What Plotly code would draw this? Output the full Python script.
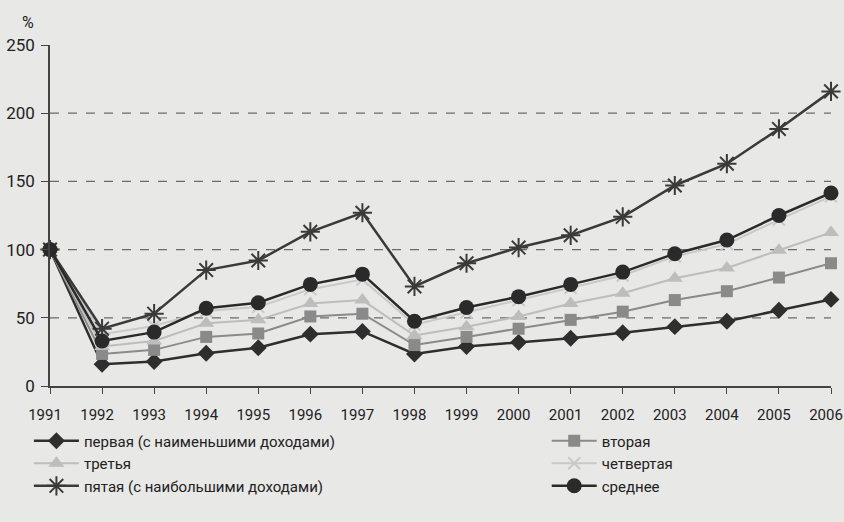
import plotly.graph_objects as go

years = list(range(1991, 2007))
first = [100, 16, 18, 24, 28, 38, 40, 23.5, 29, 32, 35, 39, 43.5, 47.5, 55.5, 63.5]
second = [100, 23.5, 26.5, 36, 38.5, 51, 53, 30, 36, 42, 48.5, 54.5, 63, 69.5, 79.5, 90]
third = [100, 29, 33, 46, 48.5, 60.5, 63, 37, 43.5, 51, 60.5, 68, 79, 86.5, 99.5, 112.5]
fourth = [100, 38, 44, 55, 58, 71, 78, 45, 54, 63, 72, 81, 95, 104, 122, 139]
fifth = [100, 42, 53, 85, 92, 113, 127, 73, 90, 101.5, 110.5, 124, 147, 163, 188.5, 216]
mean = [100, 33, 39.5, 57, 61, 74.5, 82, 47.5, 57.5, 65.5, 74.5, 83.5, 97, 107, 125, 141.5]

names = ["первая (с наименьшими доходами)", "вторая", "третья", "четвертая",
         "пятая (с наибольшими доходами)", "среднее"]
legend_ids = ["legend", "legend2", "legend", "legend2", "legend", "legend2"]
y_ticks = [0, 50, 100, 150, 200, 250]
grid_vals = [50, 100, 150, 200]

FONT = "Roboto, sans-serif"
BG = "#e8e8e6"
TXT = "#222222"

styles = [
    (first, "#2e2e2e", 2.5, dict(symbol="diamond", size=13)),
    (second, "#8a8a8a", 2, dict(symbol="square", size=12)),
    (third, "#bdbdbd", 2, dict(symbol="triangle-up", size=14)),
    (fourth, "#c9c9c9", 2, dict(symbol="x-thin-open", size=12, line=dict(width=2, color="#c9c9c9"))),
    (fifth, "#3a3a3a", 2.5, dict(symbol="asterisk-open", size=16, line=dict(width=2, color="#3a3a3a"))),
    (mean, "#2a2a2a", 2.5, dict(symbol="circle", size=15)),
]

fig = go.Figure()
for (vals, color, w, mk), name, lg in zip(styles, names, legend_ids):
    mk = dict(mk)
    mk.setdefault("color", color)
    fig.add_trace(go.Scatter(
        x=years, y=vals, name=name, mode="lines+markers", legend=lg,
        line=dict(color=color, width=w), marker=mk, cliponaxis=False,
    ))

for g in grid_vals:
    fig.add_shape(type="line", xref="x", yref="y", x0=years[0], x1=years[-1], y0=g, y1=g,
                  line=dict(color="#6a6a6a", width=1.3, dash="dash"), layer="below")

fig.add_annotation(text="%", xref="paper", yref="paper", x=0, y=1, xshift=-22, yshift=23,
                   xanchor="center", yanchor="middle",
                   showarrow=False, font=dict(family=FONT, size=16, color=TXT))

leg_common = dict(orientation="v", yanchor="top", xanchor="left", itemwidth=45,
                  font=dict(family=FONT, size=15, color=TXT), bgcolor="rgba(0,0,0,0)",
                  tracegroupgap=0, traceorder="normal")

fig.update_layout(
    width=844, height=522,
    margin=dict(l=50, r=13, t=45, b=136, autoexpand=False),
    paper_bgcolor=BG, plot_bgcolor=BG,
    font=dict(family=FONT, size=15, color=TXT),
    showlegend=True,
    legend=dict(x=-0.027, y=-0.113, **leg_common),
    legend2=dict(x=0.636, y=-0.113, **leg_common),
    xaxis=dict(range=[years[0], years[-1]], tickmode="array", tickvals=years,
               ticktext=[str(y) for y in years], showgrid=False, zeroline=False,
               showline=True, linecolor="#444", linewidth=1.5, ticks="outside",
               ticklen=6, tickcolor="#444", tickfont=dict(size=15), automargin=False,
               ticklabelshift=-5, ticklabelstandoff=8),
    yaxis=dict(range=[0, 250], tickmode="array", tickvals=y_ticks, showgrid=False,
               zeroline=False, showline=True, linecolor="#444", linewidth=1.5,
               ticks="outside", ticklen=7, tickcolor="#444", tickfont=dict(size=17),
               ticklabelstandoff=3, automargin=False),
)

fig.write_html("out.html", config={"displayModeBar": False},
               post_script="document.body.style.margin='0';document.body.style.background='%s';" % BG)
